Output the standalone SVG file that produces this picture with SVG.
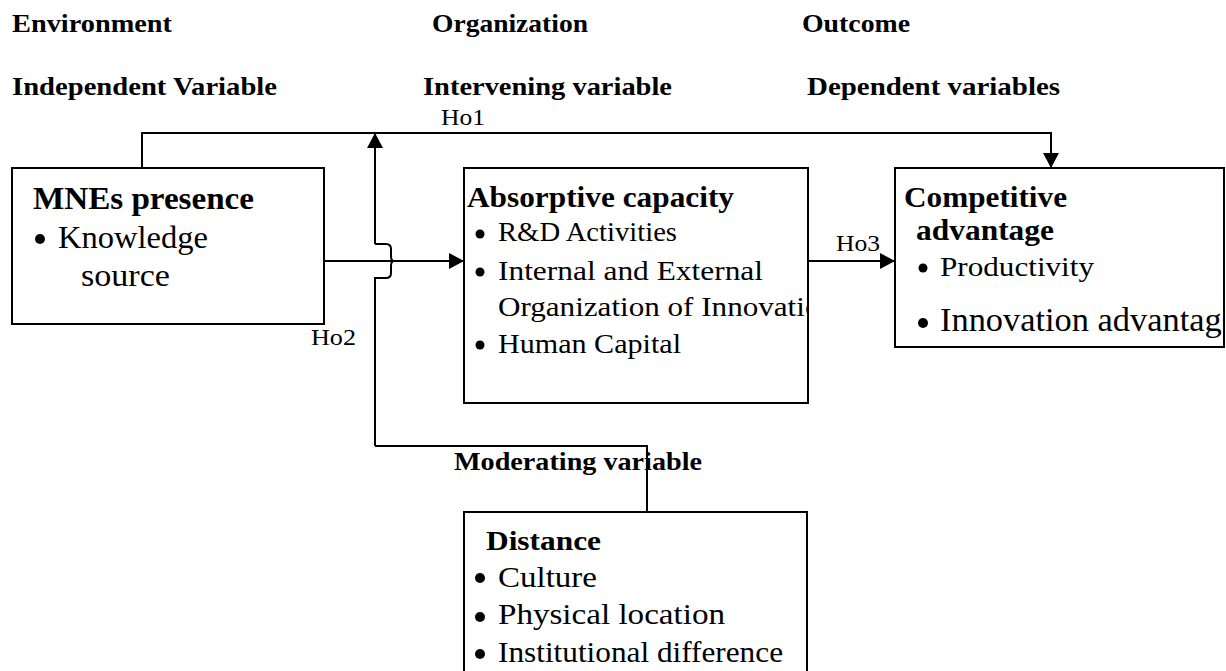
<svg xmlns="http://www.w3.org/2000/svg" width="1226" height="671" viewBox="0 0 1226 671">
<style>
text{font-family:"Liberation Serif","DejaVu Serif",serif;fill:#000}
.h{font-weight:bold;font-size:25px}
.b{font-weight:bold}
.box{fill:#fff;stroke:#000;stroke-width:2}
.ln{fill:none;stroke:#000;stroke-width:2}
.bul{fill:#000}
</style>
<defs>
<marker id="arr" markerUnits="userSpaceOnUse" markerWidth="16" markerHeight="16" refX="15" refY="8" orient="auto">
<path d="M0,0 L15,8 L0,16 z" fill="#000"/>
</marker>
<clipPath id="clipAbs"><rect x="464" y="168" width="344" height="235"/></clipPath>
<clipPath id="clipComp"><rect x="895" y="168" width="328" height="179"/></clipPath>
</defs>

<g id="headers">
<text class="h" x="12" y="32" textLength="160" lengthAdjust="spacingAndGlyphs">Environment</text>
<text class="h" x="12" y="95" textLength="265" lengthAdjust="spacingAndGlyphs">Independent Variable</text>
<text class="h" x="432" y="32" textLength="156" lengthAdjust="spacingAndGlyphs">Organization</text>
<text class="h" x="423" y="95" textLength="249" lengthAdjust="spacingAndGlyphs">Intervening variable</text>
<text class="h" x="802" y="32" textLength="108" lengthAdjust="spacingAndGlyphs">Outcome</text>
<text class="h" x="807" y="95" textLength="253" lengthAdjust="spacingAndGlyphs">Dependent variables</text>
<text class="h" x="454" y="470" textLength="248" lengthAdjust="spacingAndGlyphs">Moderating variable</text>
</g>

<g id="connectors">
<path class="ln" d="M142,173 V133 H1051 V168" marker-end="url(#arr)"/>
<path class="ln" d="M375,244 V133" marker-end="url(#arr)"/>
<path class="ln" d="M375,446 V278 H386 Q391,278 391,273 V266 Q391,261 394,261 Q391,261 391,256 V249 Q391,244 386,244 H375"/>
<path class="ln" d="M324,261 H464" marker-end="url(#arr)"/>
<path class="ln" d="M808,261 H895" marker-end="url(#arr)"/>
<path class="ln" d="M375,446 H647 V512"/>
<text x="441" y="125" font-size="23" textLength="44" lengthAdjust="spacingAndGlyphs">Ho1</text>
<text x="311" y="345" font-size="23" textLength="45" lengthAdjust="spacingAndGlyphs">Ho2</text>
<text x="836" y="251" font-size="24" textLength="44" lengthAdjust="spacingAndGlyphs">Ho3</text>
</g>

<g id="mnes">
<rect class="box" x="12" y="168" width="312" height="156"/>
<text class="b" x="33" y="209" font-size="32" textLength="221" lengthAdjust="spacingAndGlyphs">MNEs presence</text>
<circle class="bul" cx="40" cy="239" r="5"/>
<text x="58" y="248" font-size="31" textLength="150" lengthAdjust="spacingAndGlyphs">Knowledge</text>
<text x="81" y="286" font-size="31" textLength="89" lengthAdjust="spacingAndGlyphs">source</text>
</g>

<g id="absorptive">
<rect class="box" x="464" y="168" width="344" height="235"/>
<text class="b" x="467" y="207" font-size="29" textLength="267" lengthAdjust="spacingAndGlyphs">Absorptive capacity</text>
<circle class="bul" cx="480" cy="234" r="4.5"/>
<text x="498" y="241" font-size="27" textLength="179" lengthAdjust="spacingAndGlyphs">R&amp;D Activities</text>
<circle class="bul" cx="480" cy="272" r="4.5"/>
<text x="498" y="280" font-size="27" textLength="265" lengthAdjust="spacingAndGlyphs">Internal and External</text>
<text x="498" y="316" font-size="27" textLength="338" lengthAdjust="spacingAndGlyphs" clip-path="url(#clipAbs)">Organization of Innovation</text>
<circle class="bul" cx="480" cy="345" r="4.5"/>
<text x="498" y="353" font-size="27" textLength="183" lengthAdjust="spacingAndGlyphs">Human Capital</text>
</g>

<g id="competitive">
<rect class="box" x="895" y="168" width="329" height="179"/>
<text class="b" x="904" y="207" font-size="29" textLength="163" lengthAdjust="spacingAndGlyphs">Competitive</text>
<text class="b" x="916" y="240" font-size="29" textLength="138" lengthAdjust="spacingAndGlyphs">advantage</text>
<circle class="bul" cx="923" cy="268" r="4.5"/>
<text x="940" y="276" font-size="27" textLength="154" lengthAdjust="spacingAndGlyphs">Productivity</text>
<circle class="bul" cx="923" cy="323" r="5"/>
<text x="940" y="331" font-size="33" textLength="297" lengthAdjust="spacingAndGlyphs" clip-path="url(#clipComp)">Innovation advantage</text>
</g>

<g id="distance">
<rect class="box" x="464" y="512" width="343" height="170"/>
<text class="b" x="486" y="550" font-size="28" textLength="115" lengthAdjust="spacingAndGlyphs">Distance</text>
<circle class="bul" cx="480" cy="578" r="5"/>
<text x="498" y="587" font-size="30" textLength="99" lengthAdjust="spacingAndGlyphs">Culture</text>
<circle class="bul" cx="480" cy="617" r="5"/>
<text x="498" y="624" font-size="30" textLength="227" lengthAdjust="spacingAndGlyphs">Physical location</text>
<circle class="bul" cx="480" cy="654" r="5"/>
<text x="498" y="662" font-size="30" textLength="285" lengthAdjust="spacingAndGlyphs">Institutional difference</text>
</g>
</svg>
